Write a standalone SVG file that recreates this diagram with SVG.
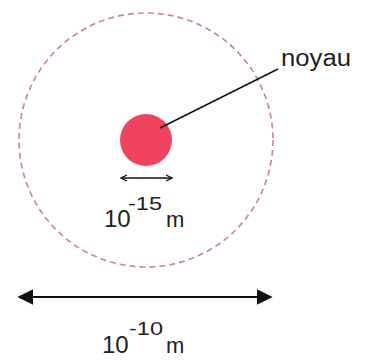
<svg xmlns="http://www.w3.org/2000/svg" width="366" height="363" viewBox="0 0 366 363">
<style>
.t{font-family:"Liberation Sans",Arial,sans-serif;fill:#222}
.ln{stroke:#111;fill:none}
</style>
<defs>
<marker id="bigHead" viewBox="0 0 10 10" refX="9" refY="5" markerWidth="8" markerHeight="8" markerUnits="strokeWidth" orient="auto-start-reverse">
<path d="M0,0 L10,5 L0,10 Z" fill="#111"/>
</marker>
<marker id="smallHead" viewBox="0 0 10 10" refX="9" refY="5" markerWidth="5" markerHeight="5" markerUnits="strokeWidth" orient="auto-start-reverse">
<path d="M1,1 L9,5 L1,9" fill="none" stroke="#111" stroke-width="1.6"/>
</marker>
</defs>
<rect width="366" height="363" fill="#fff"/>
<g id="atom">
<circle cx="146" cy="140" r="127" fill="none" stroke="#c98a98" stroke-width="1.7" stroke-dasharray="6,4"/>
</g>
<g id="noyau">
<circle cx="146" cy="140" r="26" fill="#f0435f"/>
</g>
<g id="connectors">
<line class="ln" x1="160" y1="128" x2="278" y2="69" stroke-width="1.5"/>
<line class="ln" x1="121" y1="178" x2="172" y2="178" stroke-width="1.5" marker-start="url(#smallHead)" marker-end="url(#smallHead)"/>
<line class="ln" x1="19" y1="297" x2="271" y2="297" stroke-width="2" marker-start="url(#bigHead)" marker-end="url(#bigHead)"/>
</g>
<g id="labels">
<text class="t" x="281" y="66" font-size="23" textLength="70" lengthAdjust="spacingAndGlyphs">noyau</text>
<text class="t" x="104" y="227" font-size="24">10</text>
<text class="t" x="128" y="210" font-size="19" textLength="34" lengthAdjust="spacingAndGlyphs">-15</text>
<text class="t" x="166" y="227" font-size="22">m</text>
<text class="t" x="102" y="353" font-size="24">10</text>
<text class="t" x="129" y="335" font-size="19" textLength="34" lengthAdjust="spacingAndGlyphs">-10</text>
<text class="t" x="166" y="353" font-size="22">m</text>
</g>
</svg>
